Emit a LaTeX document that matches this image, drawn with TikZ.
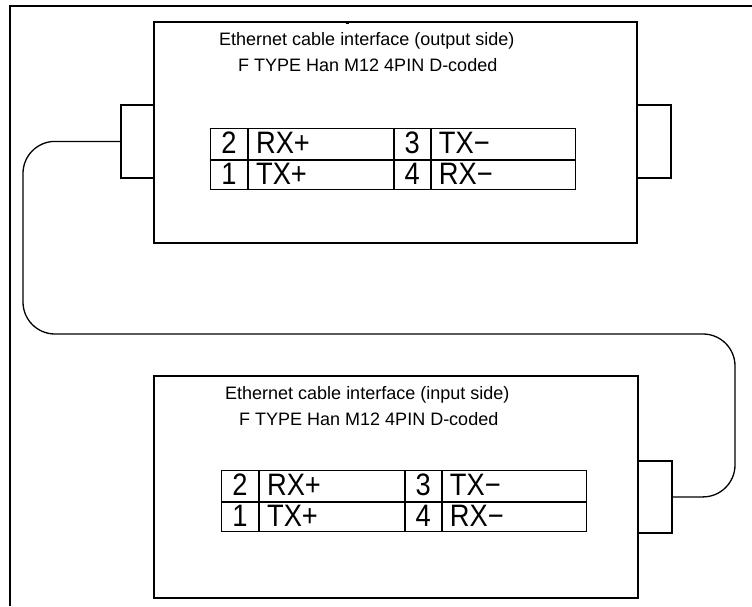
\documentclass[tikz,border=0pt]{standalone}
\usepackage{fontspec}
\setmainfont{Liberation Sans}
\newfontfamily\tabfont[FakeStretch=0.88]{Liberation Sans}
\tikzset{
  housing/.style={draw, line width=1.8pt, inner sep=0pt, anchor=north west},
  plug/.style={draw, line width=1.8pt, inner sep=0pt, anchor=north west},
  cable/.style={line width=1.3pt, rounded corners=32pt},
  outerframe/.style={line width=2pt},
  cell/.style={draw, line width=0.9pt, inner sep=0pt, anchor=north west},
  pinnum/.style={anchor=base, inner sep=0pt, font=\tabfont\fontsize{31}{31}\selectfont},
  pinsig/.style={anchor=base west, inner sep=0pt, font=\tabfont\fontsize{31}{31}\selectfont},
  caption/.style={anchor=base west, inner sep=0pt, font=\fontsize{18}{20}\selectfont},
}
\newcommand\pintable[3]{%
  \node[cell, minimum width=37pt, minimum height=31pt] (#1a) at (#2,#3) {};
  \node[cell, minimum width=145pt, minimum height=31pt] (#1b) at (#1a.north east) {};
  \node[cell, minimum width=36pt, minimum height=31pt] (#1c) at (#1b.north east) {};
  \node[cell, minimum width=144pt, minimum height=31pt] (#1d) at (#1c.north east) {};
  \node[cell, minimum width=37pt, minimum height=29.5pt] (#1e) at (#1a.south west) {};
  \node[cell, minimum width=145pt, minimum height=29.5pt] (#1f) at (#1e.north east) {};
  \node[cell, minimum width=36pt, minimum height=29.5pt] (#1g) at (#1f.north east) {};
  \node[cell, minimum width=144pt, minimum height=29.5pt] (#1h) at (#1g.north east) {};
  \node[pinnum] (#1na) at ([yshift=-25.5pt]#1a.north) {2};
  \node[pinsig] (#1nb) at ([xshift=8pt,yshift=-25.5pt]#1b.north west) {RX+};
  \node[pinnum] (#1nc) at ([yshift=-25.5pt]#1c.north) {3};
  \node[pinsig] (#1nd) at ([xshift=8pt,yshift=-25.5pt]#1d.north west) {TX−};
  \node[pinnum] (#1ne) at ([yshift=-25pt]#1e.north) {1};
  \node[pinsig] (#1nf) at ([xshift=8pt,yshift=-25pt]#1f.north west) {TX+};
  \node[pinnum] (#1ng) at ([yshift=-25pt]#1g.north) {4};
  \node[pinsig] (#1nh) at ([xshift=8pt,yshift=-25pt]#1h.north west) {RX−};
}
\begin{document}
\begin{tikzpicture}[x=1pt,y=-1pt]
\useasboundingbox (0,0) rectangle (752,606);
% outer frame
\draw[outerframe] (752,6) -- (10,6) -- (10,606);
% connectors
\node[plug, minimum width=33pt, minimum height=73pt] (cTL) at (120,104) {};
\node[plug, minimum width=34pt, minimum height=73pt] (cTR) at (636,104) {};
\node[plug, minimum width=34pt, minimum height=72pt] (cBR) at (637,460) {};
% housings
\node[housing, minimum width=483pt, minimum height=221pt] (top) at (153,21) {};
\node[housing, minimum width=484pt, minimum height=222pt] (bot) at (153,375) {};
% small tick
\draw[line width=0.8pt] (346,23) -- (349,23);
% cable
\coordinate (ka) at (23,334);
\coordinate (kb) at (735,334);
\draw[cable] (cTL.west) -| (ka) -- (kb) |- (cBR.east);
% captions
\node[caption] (t1) at (219,45) {Ethernet cable interface (output side)};
\node[caption] (t2) at (238,71) {F TYPE Han M12 4PIN D-coded};
\node[caption] (t3) at (225,399) {Ethernet cable interface (input side)};
\node[caption] (t4) at (239,425) {F TYPE Han M12 4PIN D-coded};
% pin tables
\pintable{p}{210}{128}
\pintable{q}{221}{470}
\end{tikzpicture}
\end{document}
